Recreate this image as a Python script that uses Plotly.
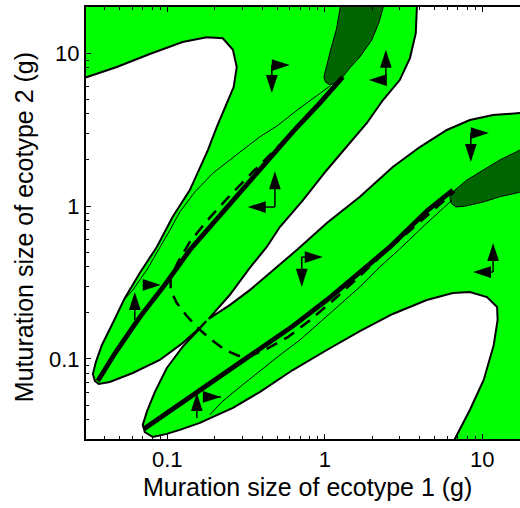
import plotly.graph_objects as go

# ---------------- data (data units) ----------------
# upper-left white region boundary (left edge -> nose -> upper band outer edge -> tip)
ul_x = [0.03, 0.0478, 0.0774, 0.125, 0.178, 0.225, 0.261, 0.276, 0.264, 0.239, 0.206, 0.181, 0.160,
        0.139, 0.108, 0.0858, 0.0669, 0.0537, 0.0451, 0.0384, 0.0352, 0.0337, 0.0347, 0.0367]
ul_y = [6.9, 8.1, 9.85, 11.8, 12.7, 12.5, 10.5, 8.1, 6.0, 4.71, 3.28, 2.32, 1.75,
        1.27, 0.848, 0.540, 0.365, 0.250, 0.172, 0.123, 0.0955, 0.0798, 0.0718, 0.0687]
# upper band inner edge, tip -> saddle
ub_in_x = [0.0431, 0.0604, 0.0896, 0.125, 0.161, 0.177]
ub_in_y = [0.0707, 0.0810, 0.0985, 0.127, 0.160, 0.177]
# lower band inner edge, saddle -> tip
lb_in_x = [0.158, 0.125, 0.0993, 0.0833, 0.0741, 0.0699, 0.0720]
lb_in_y = [0.155, 0.120, 0.0873, 0.0608, 0.0451, 0.0371, 0.0333]
# lower band outer edge, tip -> nose -> bottom edge
lb_out_x = [0.0809, 0.0993, 0.120, 0.161, 0.195, 0.261, 0.386, 0.626, 1.03, 1.67, 2.70, 4.44,
            6.50, 8.33, 10.7, 12.4, 12.5, 11.8, 10.2, 8.33, 6.69, 6.3]
lb_out_y = [0.0309, 0.0324, 0.0344, 0.0382, 0.0418, 0.0479, 0.0608, 0.0847, 0.1145, 0.152, 0.197, 0.243,
            0.270, 0.274, 0.254, 0.219, 0.180, 0.123, 0.0729, 0.0464, 0.030, 0.025]
# middle white wedge: upper band outer-right edge (saddle -> top)
ub_r_x = [0.183, 0.249, 0.334, 0.428, 0.518, 0.725, 1.03, 1.38, 1.85, 2.34, 2.99, 3.47, 3.78, 3.84, 3.86]
ub_r_y = [0.183, 0.262, 0.394, 0.540, 0.729, 1.09, 1.72, 2.43, 3.49, 4.93, 6.66, 9.27, 13.5, 20, 30]
# lower band upper edge (right edge -> saddle)
lb_u_x = [30, 17.3, 11.7, 8.33, 5.95, 4.01, 2.70, 1.67, 1.03, 0.664, 0.448, 0.334, 0.249]
lb_u_y = [4.15, 4.05, 3.93, 3.65, 3.14, 2.43, 1.80, 1.15, 0.774, 0.516, 0.365, 0.282, 0.225]
# dark green regions
d1_x = [1.30, 1.19, 1.10, 1.03, 0.986, 1.01, 1.08, 1.17, 1.30, 1.44, 1.67, 1.99, 2.20, 2.50]
d1_y = [25, 14.6, 10.9, 8.47, 6.97, 6.46, 6.18, 6.37, 6.97, 7.98, 9.42, 12.2, 15.7, 25]
d2_x = [6.22, 6.31, 6.79, 7.85, 10.07, 12.9, 17.3, 25, 25, 17.3, 12.9, 10.07, 7.98, 6.69]
d2_y = [1.15, 1.05, 0.985, 1.0, 1.06, 1.15, 1.23, 1.30, 2.6, 2.32, 2.0, 1.72, 1.48, 1.27]
# thick lines
t1_x = [0.0362, 0.0471, 0.0669, 0.0964, 0.139, 0.216, 0.386, 0.626, 0.930, 1.30]
t1_y = [0.0718, 0.111, 0.188, 0.305, 0.516, 0.873, 1.72, 3.05, 4.71, 6.97]
t2_x = [0.0709, 0.0993, 0.161, 0.261, 0.386, 0.626, 1.03, 1.67, 2.59, 4.44, 6.50]
t2_y = [0.0349, 0.0444, 0.0618, 0.0887, 0.116, 0.164, 0.243, 0.365, 0.540, 0.928, 1.27]
# dashed curve
dash_x = [1.245, 0.694, 0.482, 0.349, 0.242, 0.178, 0.139, 0.117, 0.105, 0.105, 0.115, 0.133, 0.158,
          0.191, 0.232, 0.282, 0.338, 0.431, 0.582, 0.798, 1.13, 1.67, 2.32, 3.49, 6.66]
dash_y = [6.66, 3.49, 2.32, 1.67, 1.13, 0.798, 0.582, 0.431, 0.338, 0.282, 0.232, 0.191, 0.158,
          0.133, 0.115, 0.105, 0.105, 0.117, 0.139, 0.178, 0.242, 0.349, 0.482, 0.694, 1.245]
# thin lines
l1_x = [1.08, 0.694, 0.496, 0.386, 0.289, 0.195, 0.150, 0.120, 0.104, 0.0896, 0.0741, 0.0604, 0.0530]
l1_y = [6.09, 4.37, 3.33, 2.83, 2.25, 1.64, 1.24, 0.914, 0.697, 0.540, 0.382, 0.282, 0.243]
l2_x = [6.40, 4.31, 2.99, 2.23, 1.67, 1.08, 0.694, 0.518, 0.386, 0.289, 0.222, 0.186]
l2_y = [1.09, 0.751, 0.524, 0.399, 0.296, 0.200, 0.133, 0.106, 0.0835, 0.0656, 0.0524, 0.0431]
# arrows: tail -> head
arr_x0 = [0.461, 0.461, 2.44, 2.44, 0.482, 0.482, 8.45, 8.45, 11.7, 11.7, 0.714, 0.714, 0.0622, 0.0699, 0.154, 0.173]
arr_y0 = [8.35, 8.35, 6.66, 6.66, 0.985, 0.985, 3.0, 3.0, 0.370, 0.370, 0.464, 0.464, 0.180, 0.305, 0.0411, 0.0565]
arr_x1 = [0.600, 0.461, 2.44, 1.90, 0.482, 0.324, 11.0, 8.45, 11.7, 8.71, 0.971, 0.714, 0.0622, 0.0910, 0.154, 0.219]
arr_y1 = [8.35, 5.48, 10.5, 6.66, 1.69, 0.985, 3.0, 1.94, 0.573, 0.370, 0.464, 0.296, 0.274, 0.305, 0.060, 0.0565]

x_ticks = [0.1, 1, 10]
x_ticktext = ['0.1', '1', '10']
y_ticks = [0.1, 1, 10]
y_ticktext = ['0.1', '1', '10']
minor_vals = [0.04, 0.05, 0.06, 0.07, 0.08, 0.09, 0.2, 0.3, 0.4, 0.5, 0.6, 0.7, 0.8, 0.9,
              2, 3, 4, 5, 6, 7, 8, 9]

GREEN = '#00ff00'
DARK = '#006400'
FONT = 'Liberation Sans, Arial, sans-serif'

fig = go.Figure()

def poly(xs, ys, fill, lw):
    fig.add_trace(go.Scatter(x=xs + [xs[0]], y=ys + [ys[0]], mode='lines', fill='toself',
                             fillcolor=fill, line=dict(color='black', width=lw),
                             hoverinfo='skip', showlegend=False))

# big white region (left / bottom)
w1x = [0.02] + ul_x + ub_in_x + lb_in_x + lb_out_x + [0.02]
w1y = [6.0] + ul_y + ub_in_y + lb_in_y + lb_out_y + [0.02]
poly(w1x, w1y, 'white', 2)
# middle white wedge
w2x = ub_r_x + [30] + lb_u_x
w2y = ub_r_y + [30] + lb_u_y
poly(w2x, w2y, 'white', 2)
poly(d1_x, d1_y, DARK, 1)
poly(d2_x, d2_y, DARK, 1)

def line(xs, ys, w, dash='solid'):
    fig.add_trace(go.Scatter(x=xs, y=ys, mode='lines', line=dict(color='black', width=w, dash=dash),
                             hoverinfo='skip', showlegend=False))

line(l1_x, l1_y, 1)
line(l2_x, l2_y, 1)
line(dash_x, dash_y, 2.5, '12px,8px')
line(t1_x, t1_y, 4.8)
line(t2_x, t2_y, 4.8)

ax, ay, sz = [], [], []
for a, b, c, d in zip(arr_x0, arr_y0, arr_x1, arr_y1):
    ax += [a, c, None]
    ay += [b, d, None]
    sz += [0, 19, 0]
fig.add_trace(go.Scatter(x=ax, y=ay, mode='lines+markers', line=dict(color='black', width=1.5),
                         marker=dict(symbol='arrow', size=sz, color='black', opacity=1,
                                     angleref='previous', line=dict(width=0)),
                         opacity=1, hoverinfo='skip', showlegend=False))

axis_common = dict(type='log', showline=True, linecolor='black', linewidth=2, ticks='inside',
                   ticklen=5, tickwidth=1, tickcolor='black', showgrid=False, zeroline=False,
                   tickfont=dict(family=FONT, size=22, color='black'),
                   minor=dict(ticks='inside', ticklen=3, tickwidth=1, tickcolor='black',
                              tickvals=minor_vals, showgrid=False))
fig.update_xaxes(range=[-1.516, 1.239], tickvals=x_ticks, ticktext=x_ticktext, mirror='ticks',
                 **axis_common)
fig.update_yaxes(range=[-1.523, 1.301], tickvals=y_ticks, ticktext=y_ticktext, mirror=False,
                 **axis_common)

fig.add_annotation(text='Muration size of ecotype 1 (g)', xref='paper', yref='paper', x=0.51, y=-0.111,
                   xanchor='center', yanchor='middle', showarrow=False,
                   font=dict(family=FONT, size=25, color='black'))
fig.add_annotation(text='Muturation size of ecotype 2 (g)', xref='paper', yref='paper', x=-0.141, y=0.49,
                   xanchor='center', yanchor='middle', showarrow=False, textangle=-90,
                   font=dict(family=FONT, size=25, color='black'))

fig.update_layout(width=520, height=508, margin=dict(l=86, r=0, t=7, b=69),
                  plot_bgcolor=GREEN, paper_bgcolor='white', showlegend=False)
fig.write_html('out.html', config={'displayModeBar': False},
               post_script="document.body.style.margin='0';document.body.style.overflow='hidden';")
